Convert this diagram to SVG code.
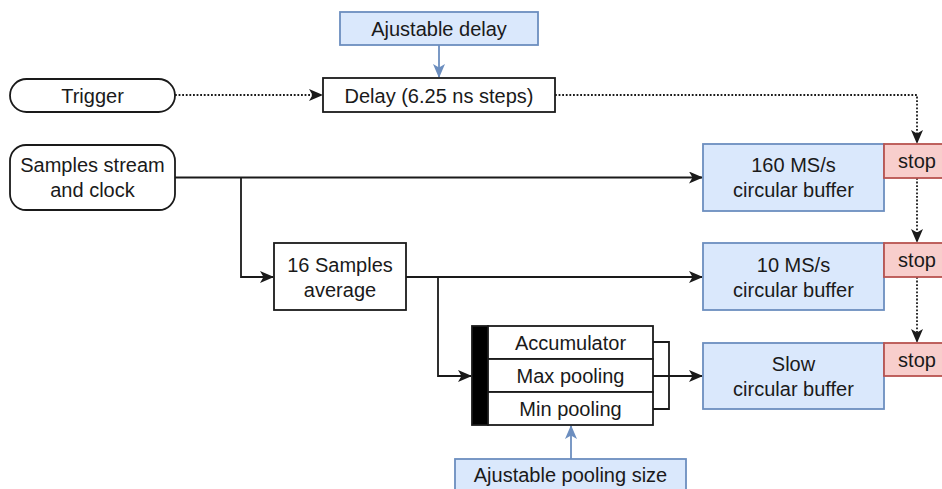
<svg xmlns="http://www.w3.org/2000/svg" width="942" height="489" viewBox="0 0 942 489">
  <style>
    .box { fill: #ffffff; stroke: #1a1a1a; stroke-width: 1.8; }
    .blue { fill: #dae8fc; stroke: #6c8ebf; stroke-width: 1.8; }
    .red { fill: #f8cecc; stroke: #b85450; stroke-width: 1.8; }
    .bar { fill: #000000; stroke: #1a1a1a; stroke-width: 1.8; }
    text { font-family: "Liberation Sans", Arial, sans-serif; font-size: 20px; fill: #1a1a1a; text-anchor: middle; dominant-baseline: central; }
    .wire { fill: none; stroke: #1a1a1a; stroke-width: 1.8; }
    .dot { fill: none; stroke: #1a1a1a; stroke-width: 1.8; stroke-dasharray: 1.8 1.8; }
    .bwire { fill: none; stroke: #6c8ebf; stroke-width: 1.8; }
  </style>
  <defs>
    <marker id="ah" viewBox="0 0 14 12" refX="13" refY="6" markerWidth="14" markerHeight="12" markerUnits="userSpaceOnUse" orient="auto">
      <path d="M0,0 L14,6 L0,12 L3.5,6 Z" fill="#1a1a1a"/>
    </marker>
    <marker id="ahb" viewBox="0 0 14 12" refX="13" refY="6" markerWidth="14" markerHeight="12" markerUnits="userSpaceOnUse" orient="auto">
      <path d="M0,0 L14,6 L0,12 L3.5,6 Z" fill="#6c8ebf"/>
    </marker>
  </defs>

  <!-- connectors -->
  <g id="connectors">
    <path class="bwire" d="M439,45 V77" marker-end="url(#ahb)"/>
    <path class="dot" d="M175,95 H322" marker-end="url(#ah)"/>
    <path class="dot" d="M555,95 H917 V143" marker-end="url(#ah)"/>
    <path class="dot" d="M917,178 V242" marker-end="url(#ah)"/>
    <path class="dot" d="M917,277 V342" marker-end="url(#ah)"/>
    <path class="wire" d="M175,177.5 H702" marker-end="url(#ah)"/>
    <path class="wire" d="M241,177.5 V277 H273" marker-end="url(#ah)"/>
    <path class="wire" d="M406,277 H702" marker-end="url(#ah)"/>
    <path class="wire" d="M438,277 V376 H471" marker-end="url(#ah)"/>
    <path class="wire" d="M653,342 H669 V409 H653"/>
    <path class="wire" d="M653,376 H702" marker-end="url(#ah)"/>
    <path class="bwire" d="M571,459 V426" marker-end="url(#ahb)"/>
  </g>

  <g id="adj-delay">
    <rect class="blue" x="340" y="12" width="198" height="33"/>
    <text x="439" y="29">Ajustable delay</text>
  </g>

  <g id="trigger">
    <rect class="box" x="10" y="79" width="165" height="33" rx="16.5" ry="16.5"/>
    <text x="92.5" y="96">Trigger</text>
  </g>

  <g id="delay">
    <rect class="box" x="323" y="78" width="232" height="34"/>
    <text x="439" y="95.5">Delay (6.25 ns steps)</text>
  </g>

  <g id="samples">
    <rect class="box" x="10" y="145" width="165" height="65" rx="16" ry="16"/>
    <text x="92.5" y="165">Samples stream</text>
    <text x="92.5" y="190">and clock</text>
  </g>

  <g id="average">
    <rect class="box" x="274" y="243" width="132" height="67"/>
    <text x="340" y="265">16 Samples</text>
    <text x="340" y="290">average</text>
  </g>

  <g id="buf160">
    <rect class="blue" x="703" y="144" width="181" height="67"/>
    <text x="793.5" y="165">160 MS/s</text>
    <text x="793.5" y="190">circular buffer</text>
  </g>
  <g id="stop160">
    <rect class="red" x="884" y="144" width="62" height="34"/>
    <text x="917" y="161">stop</text>
  </g>

  <g id="buf10">
    <rect class="blue" x="703" y="243" width="181" height="67"/>
    <text x="793.5" y="265">10 MS/s</text>
    <text x="793.5" y="290">circular buffer</text>
  </g>
  <g id="stop10">
    <rect class="red" x="884" y="243" width="62" height="34"/>
    <text x="917" y="260">stop</text>
  </g>

  <g id="bufslow">
    <rect class="blue" x="703" y="343" width="181" height="66"/>
    <text x="793.5" y="364">Slow</text>
    <text x="793.5" y="389">circular buffer</text>
  </g>
  <g id="stopslow">
    <rect class="red" x="884" y="343" width="62" height="33"/>
    <text x="917" y="359.5">stop</text>
  </g>

  <g id="pooling">
    <rect class="bar" x="472" y="326" width="16" height="99"/>
    <rect class="box" x="488" y="326" width="165" height="33"/>
    <text x="570.5" y="343">Accumulator</text>
    <rect class="box" x="488" y="359" width="165" height="33"/>
    <text x="570.5" y="376">Max pooling</text>
    <rect class="box" x="488" y="392" width="165" height="33"/>
    <text x="570.5" y="409">Min pooling</text>
  </g>

  <g id="adj-pool">
    <rect class="blue" x="455" y="459" width="231" height="40"/>
    <text x="570.5" y="475">Ajustable pooling size</text>
  </g>
</svg>
